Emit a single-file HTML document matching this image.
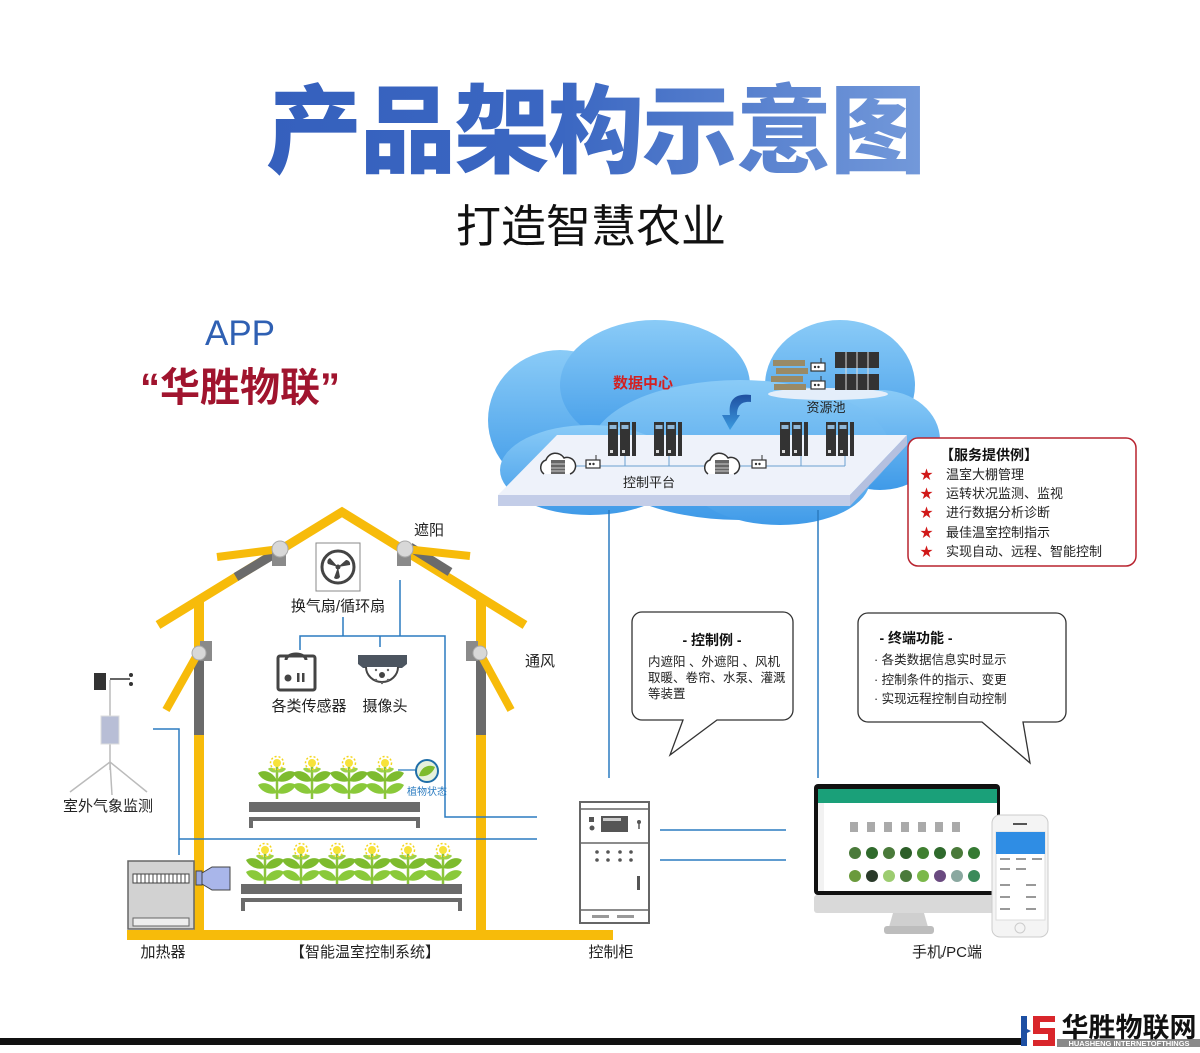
<!DOCTYPE html>
<html><head><meta charset="utf-8"><style>
html,body{margin:0;padding:0;background:#fff}
svg{display:block}
text{font-family:"Liberation Sans","Noto Sans CJK SC",sans-serif}
</style></head><body>
<svg width="1200" height="1053" viewBox="0 0 1200 1053" xmlns="http://www.w3.org/2000/svg">
<defs>
<linearGradient id="tg" x1="0" x2="1" y1="0" y2="0"><stop offset="0" stop-color="#3560bd"/><stop offset="0.45" stop-color="#3b67c2"/><stop offset="1" stop-color="#7399da"/></linearGradient>
<linearGradient id="cg" x1="0" x2="0" y1="0" y2="1"><stop offset="0" stop-color="#8acbf7"/><stop offset="1" stop-color="#3f9ae8"/></linearGradient>
<linearGradient id="ag" x1="0" x2="0" y1="0" y2="1"><stop offset="0" stop-color="#1f4fa0"/><stop offset="1" stop-color="#3b9be0"/></linearGradient>
<g id="plant">
<path d="M0,2 L0,36" stroke="#8cc43c" stroke-width="2.5"/>
<path d="M0,18 C-4,8 -14,6 -19,10 C-15,18 -6,20 0,18Z" fill="#7dbb2e"/>
<path d="M0,18 C4,8 14,6 19,10 C15,18 6,20 0,18Z" fill="#7dbb2e"/>
<path d="M0,30 C-4,20 -14,18 -19,22 C-15,30 -6,32 0,30Z" fill="#8ac93a"/>
<path d="M0,30 C4,20 14,18 19,22 C15,30 6,32 0,30Z" fill="#8ac93a"/>
<path d="M0,9 C-3,4 -8,4 -9,6 C-6,10 -2,10 0,9Z" fill="#9ed24a"/>
<path d="M0,9 C3,4 8,4 9,6 C6,10 2,10 0,9Z" fill="#9ed24a"/>
<circle cx="0" cy="0" r="4" fill="#f7e23a"/><circle cx="0" cy="0" r="6.5" fill="none" stroke="#f3d61e" stroke-width="1.5" stroke-dasharray="2 2"/>
</g>
<g id="srv"><rect x="0" y="0" width="10" height="34" fill="#333"/><rect x="12" y="0" width="10" height="34" fill="#333"/><rect x="24" y="0" width="4" height="34" fill="#333"/><rect x="1.5" y="3" width="7" height="4" fill="#8fb7d8"/><rect x="13.5" y="3" width="7" height="4" fill="#8fb7d8"/><rect x="2" y="28" width="3" height="3" fill="#ddd"/><rect x="14" y="28" width="3" height="3" fill="#ddd"/></g>
<g id="fw"><path d="M-14,8 a8,8 0 0 1 2,-14 a10,10 0 0 1 18,-2 a8,8 0 0 1 6,16" fill="#fff" stroke="#333" stroke-width="1.5"/><rect x="-7" y="-6" width="14" height="14" fill="#666"/><path d="M-7,-2 h14 M-7,2 h14 M-7,5 h14" stroke="#ccc" stroke-width="1"/></g>
<g id="rt"><rect x="0" y="0" width="14" height="8" fill="#fff" stroke="#333" stroke-width="1.2"/><circle cx="4" cy="4" r="1.2" fill="#333"/><circle cx="7.5" cy="4" r="1.2" fill="#333"/><path d="M10,0 v-5" stroke="#333"/></g>
</defs>

<!-- Title -->
<text x="595" y="165" font-size="96" font-weight="900" fill="url(#tg)" text-anchor="middle" letter-spacing="-2">产品架构示意图</text>
<text x="591" y="242" font-size="45" fill="#111" text-anchor="middle">打造智慧农业</text>
<text x="240" y="345" font-size="35" fill="#2f60b3" text-anchor="middle">APP</text>
<text x="240" y="401" font-size="40" font-weight="bold" fill="#a0142e" text-anchor="middle">“华胜物联”</text>

<!-- Cloud -->
<g fill="url(#cg)">
<ellipse cx="560" cy="420" rx="72" ry="70"/>
<ellipse cx="655" cy="385" rx="95" ry="65"/>
<ellipse cx="840" cy="385" rx="75" ry="65"/>
<ellipse cx="880" cy="440" rx="60" ry="50"/>
<ellipse cx="740" cy="450" rx="150" ry="70"/>
<ellipse cx="590" cy="470" rx="90" ry="45"/>
<ellipse cx="780" cy="480" rx="90" ry="45"/>
</g>
<path d="M557,435 L907,435 L850,495 L498,495Z" fill="#eef2fa"/>
<path d="M498,495 L850,495 L850,506 L498,506Z" fill="#c3cde8"/>
<path d="M850,495 L907,435 L907,445 L850,506Z" fill="#b5c0df"/>
<text x="643" y="388" font-size="15" font-weight="bold" fill="#d42020" text-anchor="middle">数据中心</text>
<ellipse cx="828" cy="394" rx="60" ry="6" fill="#e4eefa"/>
<g fill="#998a66"><rect x="773" y="360" width="32" height="6"/><rect x="776" y="368" width="32" height="6"/><rect x="771" y="376" width="32" height="6"/><rect x="774" y="384" width="32" height="6"/></g>
<use href="#rt" x="811" y="363"/><use href="#rt" x="811" y="381"/>
<rect x="835" y="352" width="44" height="16" fill="#333"/><rect x="835" y="374" width="44" height="16" fill="#333"/>
<path d="M846,352v38 M857,352v38 M868,352v38" stroke="#ddd" stroke-width="1"/>
<text x="826" y="412" font-size="13" fill="#222" text-anchor="middle">资源池</text>
<path d="M751,395 C735,393 728,400 730,415 L722,415 L730,430 L740,415 L737,415 C737,405 742,401 751,402Z" fill="url(#ag)"/>
<use href="#srv" x="608" y="422"/><use href="#srv" x="654" y="422"/><use href="#srv" x="780" y="422"/><use href="#srv" x="826" y="422"/>
<path d="M560,466 H845 M625,456v10 M669,456v10 M801,456v10 M845,456v10" stroke="#6aa0d0" stroke-width="1"/>
<use href="#fw" x="558" y="466"/><use href="#fw" x="722" y="466"/>
<use href="#rt" x="586" y="460"/><use href="#rt" x="752" y="460"/>
<text x="649" y="487" font-size="13" fill="#222" text-anchor="middle">控制平台</text>

<!-- service box -->
<rect x="908" y="438" width="228" height="128" rx="10" fill="#fff" stroke="#b8232f" stroke-width="1.5"/>
<text x="940" y="460" font-size="14" font-weight="bold" fill="#111">【服务提供例】</text>
<g font-size="13" fill="#222">
<text x="946" y="479">温室大棚管理</text><text x="946" y="498">运转状况监测、监视</text><text x="946" y="517">进行数据分析诊断</text><text x="946" y="537">最佳温室控制指示</text><text x="946" y="556">实现自动、远程、智能控制</text></g>
<g font-size="13" fill="#d01818"><text x="920" y="479">★</text><text x="920" y="498">★</text><text x="920" y="517">★</text><text x="920" y="537">★</text><text x="920" y="556">★</text></g>

<path d="M609,510 V778 M818,510 V778 M660,830 H786 M660,860 H786" stroke="#2b7bc0" stroke-width="1.5" fill="none"/>

<!-- bubbles -->
<path d="M642,612 H783 a10,10 0 0 1 10,10 V710 a10,10 0 0 1 -10,10 H717 L670,755 L683,720 H642 a10,10 0 0 1 -10,-10 V622 a10,10 0 0 1 10,-10Z" fill="#fff" stroke="#333" stroke-width="1.3"/>
<text x="712" y="645" font-size="14" font-weight="bold" fill="#111" text-anchor="middle">- 控制例 -</text>
<g font-size="12.5" fill="#222"><text x="648" y="666">内遮阳 、外遮阳 、风机</text><text x="648" y="682">取暖、卷帘、水泵、灌溉</text><text x="648" y="698">等装置</text></g>
<path d="M868,613 H1056 a10,10 0 0 1 10,10 V712 a10,10 0 0 1 -10,10 H1023 L1030,763 L982,722 H868 a10,10 0 0 1 -10,-10 V623 a10,10 0 0 1 10,-10Z" fill="#fff" stroke="#333" stroke-width="1.3"/>
<text x="916" y="643" font-size="14" font-weight="bold" fill="#111" text-anchor="middle">- 终端功能 -</text>
<g font-size="12.5" fill="#222"><text x="874" y="664">· 各类数据信息实时显示</text><text x="874" y="684">· 控制条件的指示、变更</text><text x="874" y="703">· 实现远程控制自动控制</text></g>

<!-- Greenhouse -->
<g stroke-linecap="butt">
<path d="M158,625 L342,512 L525,625" fill="none" stroke="#f7bb0a" stroke-width="9"/>
<path d="M286,547 L236,577" stroke="#6b6b6b" stroke-width="9"/>
<path d="M410,547 L450,572" stroke="#6b6b6b" stroke-width="9"/>
<path d="M217,557 L280,549" stroke="#f7bb0a" stroke-width="8"/>
<path d="M405,549 L470,556" stroke="#f7bb0a" stroke-width="8"/>
<rect x="272" y="548" width="14" height="18" fill="#8a8a8a"/>
<rect x="397" y="548" width="14" height="18" fill="#8a8a8a"/>
<rect x="194" y="600" width="10" height="335" fill="#f7bb0a"/>
<rect x="194" y="650" width="10" height="85" fill="#6b6b6b"/>
<rect x="476" y="600" width="10" height="335" fill="#f7bb0a"/>
<rect x="476" y="650" width="10" height="85" fill="#6b6b6b"/>
<rect x="200" y="641" width="12" height="20" fill="#8a8a8a"/>
<rect x="466" y="641" width="12" height="20" fill="#8a8a8a"/>
<path d="M197,655 L166,710" stroke="#f7bb0a" stroke-width="8"/>
<path d="M481,655 L511,710" stroke="#f7bb0a" stroke-width="8"/>
<rect x="127" y="930" width="486" height="10" fill="#f7bb0a"/>
<circle cx="280" cy="549" r="8" fill="#d8d8d8" stroke="#aaa"/>
<circle cx="405" cy="549" r="8" fill="#d8d8d8" stroke="#aaa"/>
<circle cx="199" cy="653" r="7" fill="#d8d8d8" stroke="#aaa"/>
<circle cx="480" cy="653" r="7" fill="#d8d8d8" stroke="#aaa"/>
</g>
<text x="429" y="535" font-size="15" fill="#222" text-anchor="middle">遮阳</text>
<text x="540" y="666" font-size="15" fill="#222" text-anchor="middle">通风</text>
<rect x="316" y="543" width="44" height="48" fill="#fff" stroke="#888"/>
<circle cx="338" cy="567" r="16" fill="none" stroke="#444" stroke-width="3"/>
<path d="M338,567 l-10,-3 a4,4 0 0 1 2,-6Z M338,567 l8,-7 a4,4 0 0 1 4,5Z M338,567 l2,10 a4,4 0 0 1 -6,1Z" fill="#444"/>
<circle cx="338" cy="567" r="2.5" fill="#444"/>
<text x="338" y="611" font-size="15" fill="#222" text-anchor="middle">换气扇/循环扇</text>
<path d="M343,617 V636 M300,650 V636 H445 V817 H537 M380,636 V647 M400,580 V636 M153,729 H179 V855 M179,839 H537" stroke="#2b7bc0" stroke-width="1.5" fill="none"/>
<rect x="278" y="656" width="37" height="34" rx="2" fill="#fff" stroke="#444" stroke-width="3"/>
<path d="M286,660 a10,6 0 0 1 20,0" fill="none" stroke="#444" stroke-width="3"/>
<circle cx="288" cy="678" r="3.5" fill="#444"/><rect x="297" y="673" width="2.5" height="9" fill="#444"/><rect x="302" y="673" width="2.5" height="9" fill="#444"/>
<text x="309" y="711" font-size="15" fill="#222" text-anchor="middle">各类传感器</text>
<path d="M358,655 H407 V664 L402,668 H363 L358,664Z" fill="#4c5560"/>
<path d="M366,667 a16,15 0 0 0 32,0" fill="#fff" stroke="#444" stroke-width="2"/>
<circle cx="382" cy="675" r="3" fill="#444"/>
<g fill="#666"><circle cx="376" cy="670" r="1.2"/><circle cx="388" cy="670" r="1.2"/><circle cx="376" cy="680" r="1.2"/><circle cx="388" cy="680" r="1.2"/><circle cx="382" cy="683" r="1.2"/></g>
<text x="385" y="711" font-size="15" fill="#222" text-anchor="middle">摄像头</text>
<use href="#plant" x="277" y="763"/><use href="#plant" x="312" y="763"/><use href="#plant" x="349" y="763"/><use href="#plant" x="385" y="763"/>
<rect x="249" y="802" width="171" height="10" fill="#6b6b6b"/>
<path d="M251,828 V819 H418 V828" fill="none" stroke="#6b6b6b" stroke-width="4"/>
<path d="M398,770 H416" stroke="#2b7bc0" stroke-width="1.2"/>
<circle cx="427" cy="771" r="11" fill="#e6f1dc" stroke="#1f6ea8" stroke-width="2"/>
<path d="M419,776 C421,766 430,764 435,767 C432,775 425,777 419,776Z" fill="#7dbb2e"/>
<text x="427" y="795" font-size="10" fill="#2a7bc0" text-anchor="middle">植物状态</text>
<use href="#plant" x="265" y="850"/><use href="#plant" x="301" y="850"/><use href="#plant" x="337" y="850"/><use href="#plant" x="372" y="850"/><use href="#plant" x="408" y="850"/><use href="#plant" x="443" y="850"/>
<rect x="241" y="884" width="221" height="10" fill="#6b6b6b"/>
<path d="M243,911 V900 H460 V911" fill="none" stroke="#6b6b6b" stroke-width="4"/>
<rect x="128" y="861" width="66" height="68" fill="#d2d2d2" stroke="#666" stroke-width="1.5"/>
<rect x="133" y="874" width="56" height="9" fill="#fff" stroke="#444"/>
<path d="M137,874v9 M141,874v9 M145,874v9 M149,874v9 M153,874v9 M157,874v9 M161,874v9 M165,874v9 M169,874v9 M173,874v9 M177,874v9 M181,874v9 M185,874v9" stroke="#444" stroke-width="1"/>
<rect x="133" y="918" width="56" height="8" fill="#eee" stroke="#666"/>
<rect x="196" y="871" width="6" height="14" fill="#9aa8e0" stroke="#444"/>
<path d="M202,873 L212,867 H230 V890 H212 L202,884Z" fill="#a9b6ea" stroke="#444"/>
<text x="163" y="957" font-size="15" fill="#222" text-anchor="middle">加热器</text>
<text x="365" y="957" font-size="15" fill="#222" text-anchor="middle">【智能温室控制系统】</text>
<!-- weather -->
<path d="M110,680 V770 M110,762 L70,792 M110,762 L147,792 M110,762 L112,795" stroke="#bbb" stroke-width="1.5" fill="none"/>
<rect x="101" y="716" width="18" height="28" fill="#b8bed6" stroke="#ddd"/>
<rect x="94" y="673" width="12" height="17" fill="#333"/>
<path d="M110,679 H130" stroke="#333" stroke-width="1.5"/><circle cx="131" cy="675" r="2" fill="#333"/><circle cx="131" cy="684" r="2" fill="#333"/>
<text x="108" y="811" font-size="15" fill="#222" text-anchor="middle">室外气象监测</text>
<!-- cabinet -->
<rect x="580" y="802" width="69" height="121" fill="#fff" stroke="#666" stroke-width="2"/>
<path d="M581,809 H648 M581,843 H648 M581,910 H648" stroke="#666" stroke-width="1.5"/>
<rect x="601" y="816" width="27" height="16" fill="#555"/><rect x="603" y="818" width="18" height="3" fill="#ccc"/>
<rect x="589" y="817" width="5" height="5" fill="#555"/><circle cx="592" cy="828" r="2.5" fill="#555"/>
<circle cx="639" cy="822" r="2" fill="#555"/><path d="M639,822v7" stroke="#555" stroke-width="1.5"/>
<g fill="#555"><circle cx="597" cy="852" r="1.8"/><circle cx="608" cy="852" r="1.8"/><circle cx="620" cy="852" r="1.8"/><circle cx="631" cy="852" r="1.8"/><circle cx="597" cy="860" r="1.8"/><circle cx="608" cy="860" r="1.8"/><circle cx="620" cy="860" r="1.8"/><circle cx="631" cy="860" r="1.8"/></g>
<rect x="637" y="876" width="3" height="14" fill="#555"/>
<rect x="592" y="915" width="17" height="3" fill="#999"/><rect x="617" y="915" width="17" height="3" fill="#999"/>
<text x="611" y="957" font-size="15" fill="#222" text-anchor="middle">控制柜</text>
<!-- monitor -->
<rect x="814" y="784" width="186" height="111" rx="4" fill="#111"/>
<rect x="814" y="895" width="186" height="18" rx="3" fill="#d9d9d9"/>
<path d="M893,913 H924 L928,927 H889Z" fill="#cfcfcf"/>
<rect x="884" y="926" width="50" height="8" rx="3" fill="#bdbdbd"/>
<rect x="818" y="789" width="179" height="102" fill="#fff"/>
<rect x="818" y="789" width="179" height="14" fill="#1aa079"/>
<rect x="818" y="803" width="6" height="88" fill="#f2f2f2"/>
<g fill="#4a7a3a">
<circle cx="855" cy="853" r="6"/><circle cx="872" cy="853" r="6" fill="#2f6a2c"/><circle cx="889" cy="853" r="6"/><circle cx="906" cy="853" r="6" fill="#2c5e28"/><circle cx="923" cy="853" r="6" fill="#3f7f30"/><circle cx="940" cy="853" r="6" fill="#2f6a2c"/><circle cx="957" cy="853" r="6"/><circle cx="974" cy="853" r="6" fill="#357a33"/>
<circle cx="855" cy="876" r="6" fill="#6a9a3c"/><circle cx="872" cy="876" r="6" fill="#2a3a2a"/><circle cx="889" cy="876" r="6" fill="#9ccc70"/><circle cx="906" cy="876" r="6"/><circle cx="923" cy="876" r="6" fill="#7bb84a"/><circle cx="940" cy="876" r="6" fill="#6a4a80"/><circle cx="957" cy="876" r="6" fill="#8aa8a0"/><circle cx="974" cy="876" r="6" fill="#3a8a5a"/></g>
<g fill="#aaa"><rect x="850" y="822" width="8" height="10"/><rect x="867" y="822" width="8" height="10"/><rect x="884" y="822" width="8" height="10"/><rect x="901" y="822" width="8" height="10"/><rect x="918" y="822" width="8" height="10"/><rect x="935" y="822" width="8" height="10"/><rect x="952" y="822" width="8" height="10"/></g>
<rect x="992" y="815" width="56" height="122" rx="8" fill="#f4f4f4" stroke="#ccc"/>
<rect x="996" y="832" width="49" height="88" fill="#fff" stroke="#ddd"/>
<rect x="996" y="832" width="49" height="22" fill="#2f8de4"/>
<rect x="1013" y="823" width="14" height="2" fill="#555"/>
<circle cx="1020" cy="928" r="5" fill="none" stroke="#ccc"/>
<g fill="#999"><rect x="1000" y="858" width="10" height="2"/><rect x="1016" y="858" width="10" height="2"/><rect x="1032" y="858" width="10" height="2"/><rect x="1000" y="868" width="10" height="2"/><rect x="1016" y="868" width="10" height="2"/><rect x="1000" y="884" width="10" height="2"/><rect x="1026" y="884" width="10" height="2"/><rect x="1000" y="896" width="10" height="2"/><rect x="1026" y="896" width="10" height="2"/><rect x="1000" y="908" width="10" height="2"/><rect x="1026" y="908" width="10" height="2"/></g>
<text x="947" y="957" font-size="15" fill="#222" text-anchor="middle">手机/PC端</text>

<rect x="0" y="1038" width="1022" height="7" fill="#111"/>
<rect x="1057" y="1039" width="143" height="8" fill="#8a8a8a"/>
<path d="M1021,1016 H1027 V1029 L1031,1031 L1027,1033 V1046 H1021Z" fill="#1d4fa3"/>
<path d="M1033,1016 H1055 V1022 H1040 V1028 H1055 V1046 H1033 V1040 H1048 V1034 H1033Z" fill="#d9262b"/>
<text x="1129" y="1037" font-size="27" font-weight="bold" fill="#111" text-anchor="middle">华胜物联网</text>
<text x="1129" y="1046" font-size="7.5" font-weight="bold" fill="#fff" text-anchor="middle">HUASHENG INTERNETOFTHINGS</text>
</svg>
</body></html>
